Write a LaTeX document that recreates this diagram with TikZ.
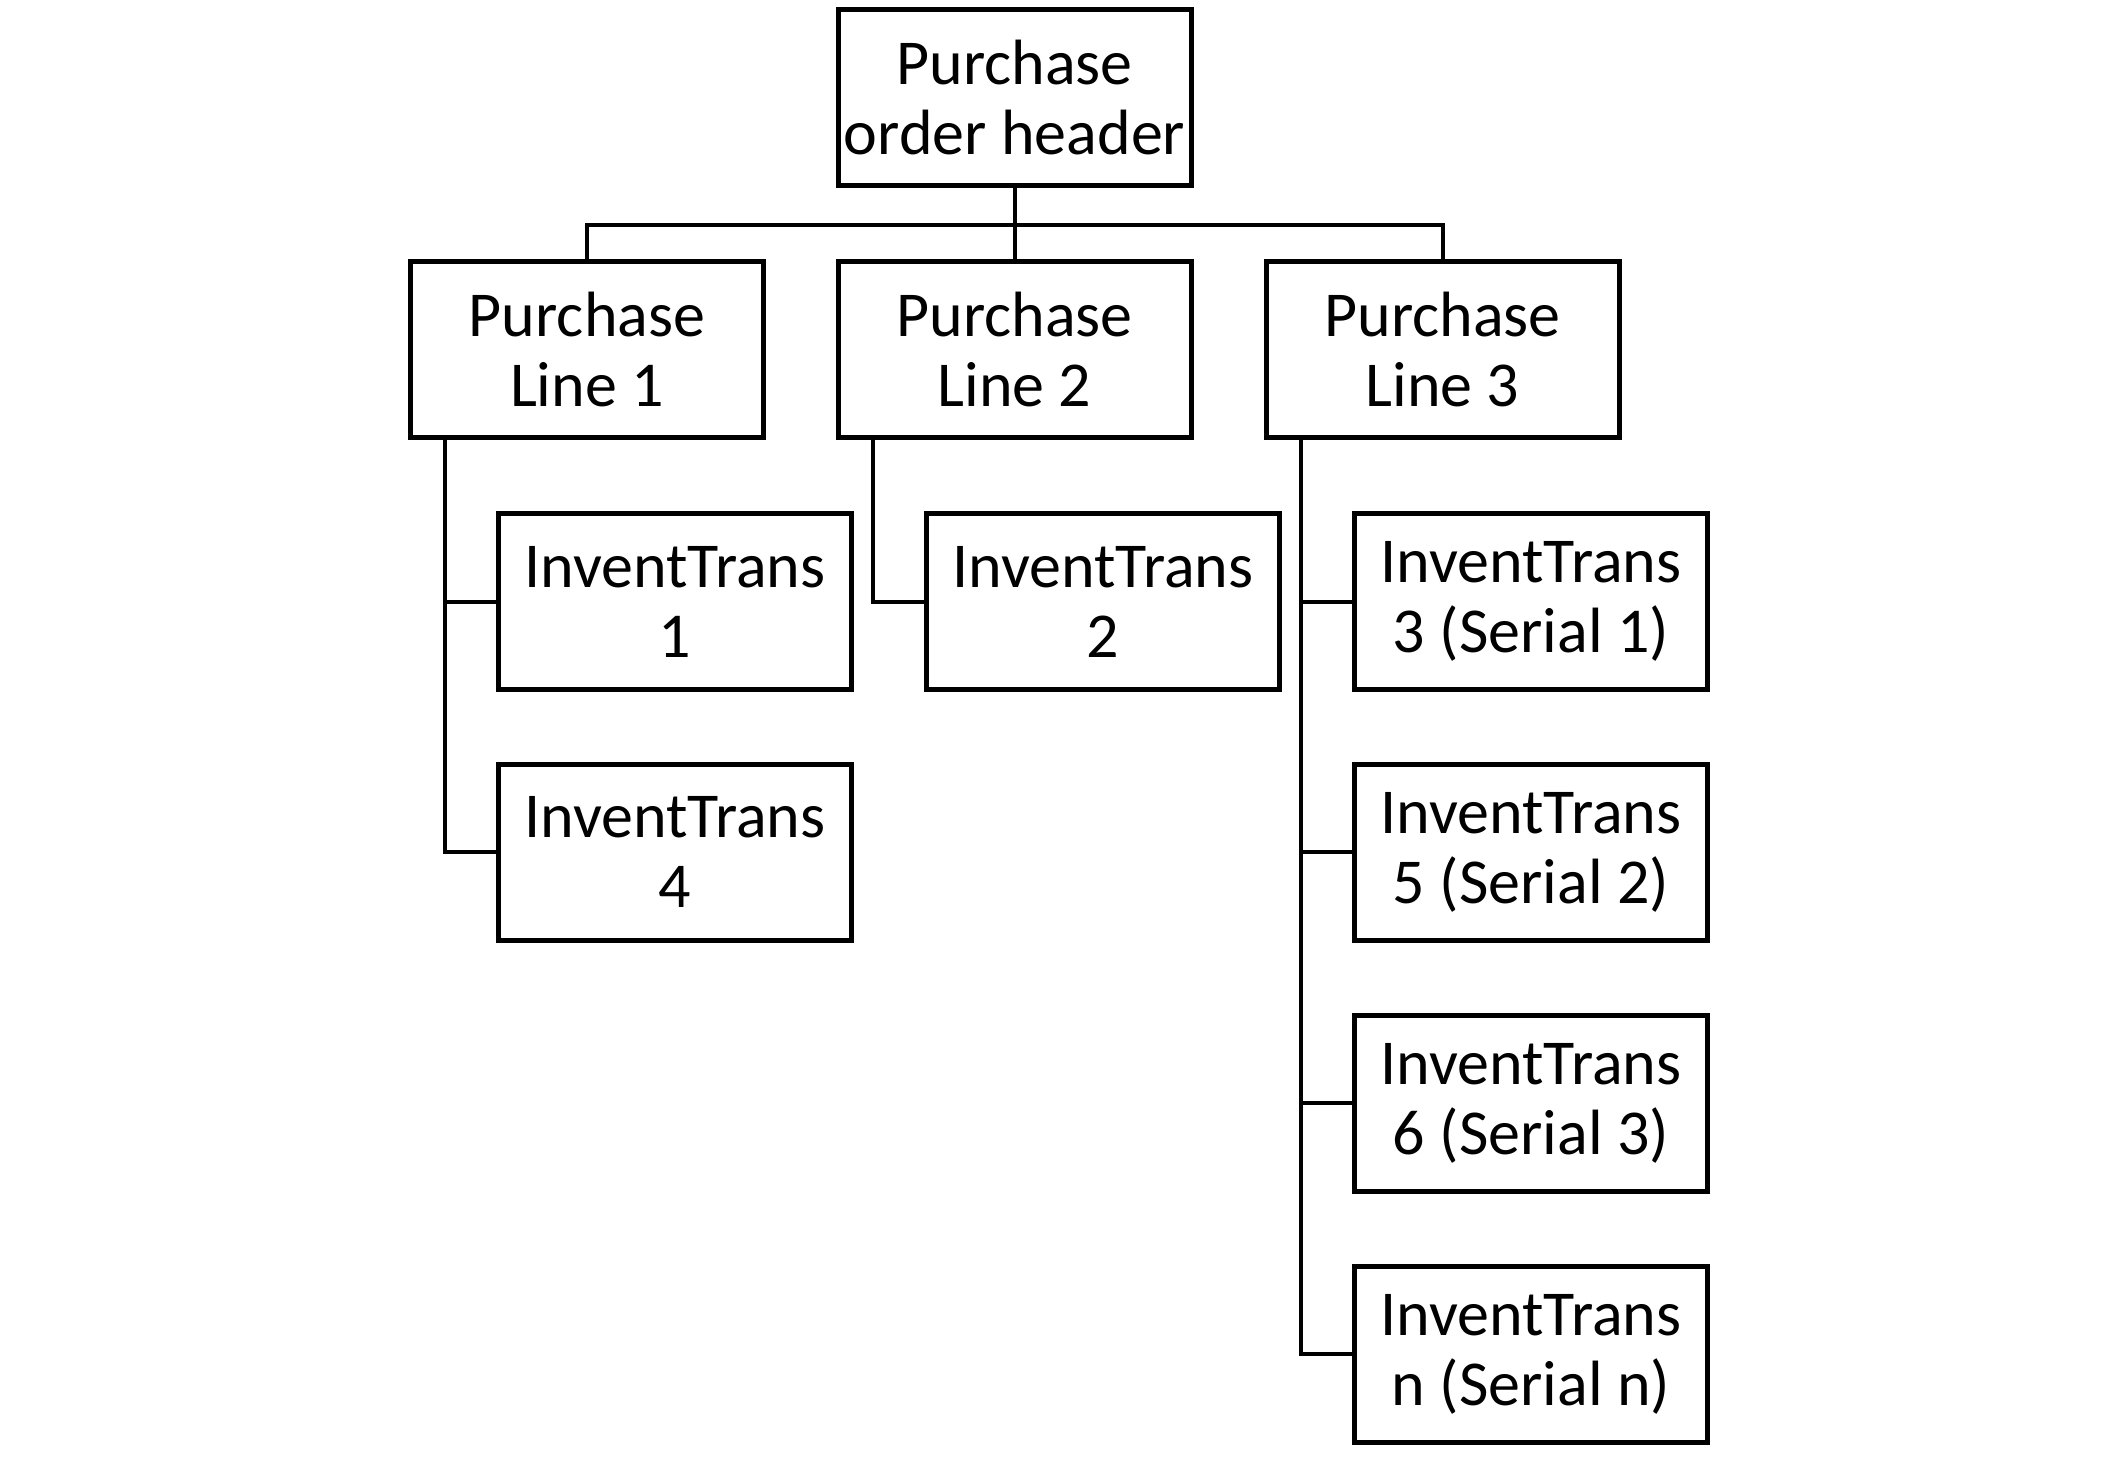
\documentclass[tikz,border=0pt]{standalone}
\usepackage{fontspec}
\setmainfont{Carlito}
\usetikzlibrary{positioning}
\tikzset{
  box/.style={draw, line width=2.5pt, minimum width=176.5pt, minimum height=88pt,
    inner sep=0pt, align=center, font=\fontsize{32}{35}\selectfont},
  link/.style={line width=2pt}
}

\begin{document}
\begin{tikzpicture}[x=0.5pt,y=-0.5pt]
\useasboundingbox (0,0) rectangle (2117,1463);

% Header
\node[box] (hdr) at (1014.5,97.5) {Purchase\\order header};

% Purchase lines
\node[box] (pl1) at (587,349.5) {Purchase\\Line 1};
\node[box] (pl2) at (1014.5,349.5) {Purchase\\Line 2};
\node[box] (pl3) at (1442.5,349.5) {Purchase\\Line 3};

% InventTrans
\node[box] (it1) at (675,601.5) {InventTrans\\1};
\node[box] (it4) at (675,852) {InventTrans\\4};
\node[box] (it2) at (1103,601.5) {InventTrans\\2};
\node[box] (it3) at (1531,601.5) {InventTrans\\3 (Serial 1)};
\node[box] (it5) at (1531,852) {InventTrans\\5 (Serial 2)};
\node[box] (it6) at (1531,1103) {InventTrans\\6 (Serial 3)};
\node[box] (itn) at (1531,1354) {InventTrans\\n (Serial n)};

% Connectors
\coordinate (bus) at (1014.5,225);
\draw[link] (hdr.south) -- (bus);
\draw[link] (bus) -| (pl1.north);
\draw[link] (bus) -- (pl2.north);
\draw[link] (bus) -| (pl3.north);

\coordinate (s1) at ([xshift=18.5pt]pl1.south west);
\coordinate (s2) at ([xshift=18.5pt]pl2.south west);
\coordinate (s3) at ([xshift=18.5pt]pl3.south west);
\draw[link] (s1) |- (it1.west);
\draw[link] (s1) |- (it4.west);
\draw[link] (s2) |- (it2.west);
\foreach \n in {it3,it5,it6,itn}
  \draw[link] (s3) |- (\n.west);
\end{tikzpicture}
\end{document}
